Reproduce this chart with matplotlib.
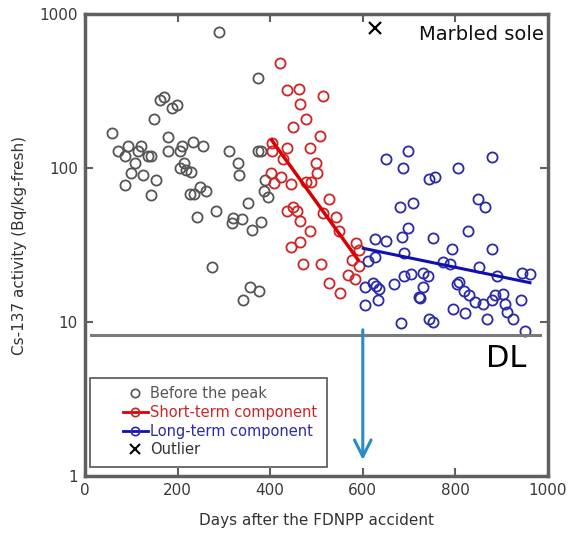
import numpy as np
import matplotlib
matplotlib.use("Agg")
import matplotlib.pyplot as plt
from matplotlib.lines import Line2D
from matplotlib.patches import Rectangle
from matplotlib.ticker import FixedLocator, NullLocator, FixedFormatter

# before the peak (gray)
before_days = [290, 374, 161, 170, 187, 199, 150, 58, 94, 121, 72, 87, 115, 109, 136, 142,
               100, 125, 87, 153, 142, 180, 180, 205, 210, 233, 255, 213, 205, 219, 228,
               248, 262, 226, 235, 284, 243, 311, 331, 332, 320, 318, 339, 352, 360, 381,
               275, 356, 376, 341, 374, 380, 388, 387, 396]
before_vals = [767, 386, 276, 288, 246, 257, 208, 168, 139, 139, 129, 120, 129, 108, 120, 120,
               93, 90, 77.6, 83.6, 66.5, 159, 129, 129, 139, 148, 139, 108, 99.5, 97, 94.6,
               75.6, 71, 67.5, 67.5, 52.6, 48.3, 129, 108, 90, 47.1, 44.2, 46.5, 59.5, 39.6, 44.4,
               22.9, 16.9, 15.9, 13.9, 129, 129, 83.6, 71.2, 65.1]

# short-term component (red)
short_days = [422, 437, 462, 513, 464, 478, 450, 507, 486, 437, 403, 403, 427, 500, 501,
              401, 408, 424, 444, 478, 489, 527, 437, 450, 457, 513, 542, 464, 487, 549,
              465, 444, 585, 592, 471, 509, 576, 592, 568, 583, 527, 550]
short_vals = [479, 321, 326, 295, 259, 207, 185, 161, 135, 135, 145, 128, 114, 107, 92.4,
              93, 80.3, 87.8, 78.3, 81.5, 81.5, 62.6, 52.6, 56.1, 52.6, 50.8, 48.3, 45.3, 39.2, 39.2,
              33.2, 30.5, 32.7, 29.3, 23.7, 23.7, 25.3, 23.1, 20.2, 18.9, 18.0, 15.4]

# long-term component (blue)
long_days = [650, 697, 687, 680, 708, 697, 626, 650, 684, 689, 626, 612, 689, 705, 622, 628,
             634, 604, 668, 633, 604, 682, 722, 729, 741, 729, 723, 743, 751, 743, 756, 806,
             878, 751, 792, 828, 849, 864, 878, 774, 788, 852, 889, 943, 961, 803, 808, 818,
             830, 842, 859, 878, 885, 903, 907, 912, 941, 925, 868, 794, 821, 950]
long_vals = [114, 128, 100.5, 56.1, 59.5, 40.6, 34.6, 33.7, 35.5, 27.9, 26.5, 24.9, 19.9, 20.4, 18.0, 17.1,
             16.5, 16.9, 17.6, 13.9, 12.9, 9.8, 14.6, 20.7, 20.0, 16.8, 14.4, 10.4, 10.0, 84.9, 87.0, 100.5,
             117, 34.9, 29.8, 39.2, 62.6, 55.6, 29.8, 24.6, 23.8, 22.9, 20.0, 20.9, 20.5, 17.6, 18.3, 16.0,
             15.0, 13.5, 13.1, 14.0, 15.0, 15.2, 13.1, 11.7, 14.0, 10.4, 10.4, 12.1, 11.5, 8.74]

# fitted components (end points of the regression lines)
short_fit_days = [403, 590]
short_fit_vals = [152, 25.3]
long_fit_days = [601, 961]
long_fit_vals = [30.1, 18.0]

outlier_day = [626]
outlier_val = [811]

detection_limit = 8.2
dl_days = [13, 983]
arrow_day = 600

gray_c = '#555555'
red_c = '#d02424'
blue_c = '#2a2aa8'

fig = plt.figure(figsize=(5.68, 5.38), dpi=100)
ax = fig.add_axes([0.1496, 0.1152, 0.8152, 0.8588])

ms = 7.3
ax.plot(before_days, before_vals, 'o', mfc='none', mec=gray_c, ms=ms, mew=1.3)
ax.plot(short_days, short_vals, 'o', mfc='none', mec=red_c, ms=ms, mew=1.3)
ax.plot(long_days, long_vals, 'o', mfc='none', mec=blue_c, ms=ms, mew=1.3)
ax.plot(short_fit_days, short_fit_vals, '-', color='#d80000', lw=2.5)
ax.plot(long_fit_days, long_fit_vals, '-', color='#1010b0', lw=2.2)
ax.plot(outlier_day, outlier_val, 'x', color='black', ms=8, mew=1.6)

ax.plot(dl_days, [detection_limit, detection_limit], '-', color='#7a7a7a', lw=2.2)
ax.text(0.91, 0.255, 'DL', transform=ax.transAxes, fontsize=22, ha='center', va='center')
ax.text(0.99, 0.955, 'Marbled sole', transform=ax.transAxes, fontsize=14,
        ha='right', va='center', color='#111111')

ax.annotate('', xy=(arrow_day, 1.27), xytext=(arrow_day, 8.9),
            arrowprops=dict(arrowstyle='->,head_width=0.6,head_length=1.2',
                            color='#2a8cc6', lw=2.2, shrinkA=0, shrinkB=0))

ax.set_xlim(0, 1000)
ax.set_yscale('log')
ax.set_ylim(1, 1000)
ax.xaxis.set_major_locator(FixedLocator([0, 200, 400, 600, 800, 1000]))
ax.yaxis.set_major_locator(FixedLocator([1, 10, 100, 1000]))
ax.yaxis.set_major_formatter(FixedFormatter(['1', '10', '100', '1000']))
ax.yaxis.set_minor_locator(NullLocator())
ax.tick_params(direction='in', length=6, width=1.5, color='#606060',
               labelsize=11, labelcolor='#3a3a3a', top=True, right=True, pad=5)
for s in ax.spines.values():
    s.set_color('#606060')
    s.set_linewidth(2.5)

ax.set_xlabel('Days after the FDNPP accident', fontsize=11, color='#333333', labelpad=11)
ax.set_ylabel('Cs-137 activity (Bq/kg-fresh)', fontsize=11, color='#333333', labelpad=9)

# legend box drawn separately so the handles can sit indented as in the source
ax.add_patch(Rectangle((0.011, 0.0195), 0.512, 0.1925, transform=ax.transAxes,
                       fill=True, facecolor='white', edgecolor='#555555', lw=1.2, zorder=4))
handles = [
    Line2D([], [], ls='none', marker='o', mfc='none', mec=gray_c, ms=6, mew=1.2),
    Line2D([], [], color='#d80000', lw=2, marker='o', mfc='none', mec=red_c, ms=6, mew=1.2),
    Line2D([], [], color='#1010b0', lw=2, marker='o', mfc='none', mec=blue_c, ms=6, mew=1.2),
    Line2D([], [], ls='none', marker='x', color='black', ms=7, mew=1.5),
]
labels = ['Before the peak', 'Short-term component', 'Long-term component', 'Outlier']
leg = ax.legend(handles, labels, loc='center left', bbox_to_anchor=(0.082, 0.117),
                fontsize=10.5, frameon=False, handlelength=1.7,
                handletextpad=0.15, labelspacing=0.25, borderpad=0, borderaxespad=0)
leg.set_zorder(5)
for t, c in zip(leg.get_texts(), [gray_c, red_c, blue_c, '#333333']):
    t.set_color(c)

fig.savefig('out.png', dpi=100)
